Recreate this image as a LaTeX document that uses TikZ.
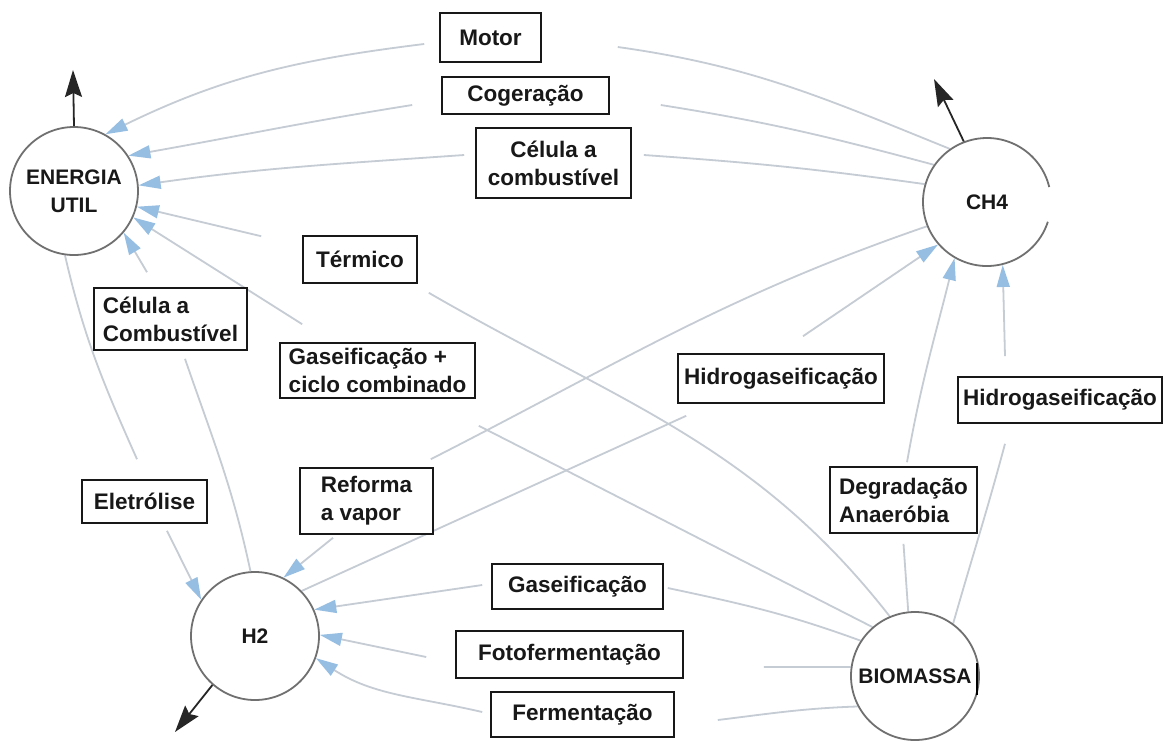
\documentclass[tikz,border=0pt]{standalone}
\usepackage{fontspec}
\setmainfont{Liberation Sans}
\usetikzlibrary{arrows.meta,calc}
\pgfdeclarelayer{background}
\pgfsetlayers{background,main}

\definecolor{linkgray}{RGB}{198,204,212}
\definecolor{tipblue}{RGB}{150,190,226}
\definecolor{ringgray}{RGB}{112,112,112}
\definecolor{inkdark}{RGB}{24,24,24}

\begin{document}
\begin{tikzpicture}[x=1pt,y=1pt,
  every node/.style={font=\fontsize{22.5}{28}\selectfont\bfseries, text=inkdark},
  hubnode/.style={circle, draw=ringgray, line width=1.8pt, minimum size=128pt,
    inner sep=0pt, fill=white, align=center, font=\fontsize{21}{28}\selectfont\bfseries},
  procbox/.style 2 args={draw=inkdark, line width=1.6pt, fill=white,
    minimum width=#1, minimum height=#2, inner sep=0pt, align=left},
  linkline/.style={draw=linkgray, line width=1.8pt},
  feedline/.style={linkline, -{Triangle[length=22pt,width=13pt,color=tipblue]}},
  outarrow/.style={draw=black!85, line width=1.8pt, -{Stealth[length=27pt,width=17pt,inset=4pt]}},
]
\useasboundingbox (0,0) rectangle (1164,-740);

% hubs
\node[hubnode] (EU) at (74,-191) {ENERGIA\\UTIL};
\node[hubnode, draw=none] (CH4) at (987,-202) {CH4};
\draw[ringgray, line width=1.8pt] ($(CH4.center)+(13.5:64)$) arc[start angle=13.5, end angle=342, radius=64];
\node[hubnode] (H2) at (255,-636) {H2};
\node[hubnode] (BIO) at (915,-676) {BIOMASSA};
\draw[black, line width=1.2pt] (977,-663) -- (977,-695);

% process boxes
\node[procbox={101pt}{49pt}] (Motor) at (490.5,-37.5) {Motor};
\node[procbox={167pt}{37pt}] (Cog) at (525.5,-95.5) {Cogeração};
\node[procbox={155pt}{70pt}, align=center] (Celtop) at (553.5,-163) {Célula a\\combustível};
\node[procbox={114pt}{47pt}] (Term) at (360,-259.5) {Térmico};
\node[procbox={153pt}{62pt}] (Celleft) at (170.5,-319) {Célula a\\Combustível};
\node[procbox={195pt}{55pt}] (Gascc) at (377.5,-370.5) {Gaseificação +\\ciclo combinado};
\node[procbox={206pt}{49pt}] (Hidmid) at (781,-378.5) {Hidrogaseificação};
\node[procbox={204pt}{46pt}] (Hidright) at (1060,-400) {Hidrogaseificação};
\node[procbox={147pt}{66pt}] (Degr) at (903.5,-500) {Degradação\\Anaeróbia};
\node[procbox={125pt}{43pt}] (Eletr) at (144.5,-501.5) {Eletrólise};
\node[procbox={133pt}{66pt}] (Reforma) at (366.5,-501) {Reforma\\a vapor};
\node[procbox={171pt}{45pt}] (Gasb) at (577.5,-586.5) {Gaseificação};
\node[procbox={227pt}{47pt}] (Foto) at (569.5,-654.5) {Fotofermentação};
\node[procbox={183pt}{45pt}] (Ferm) at (582.5,-714.5) {Fermentação};

% free ends of the output arrows
\coordinate (EUout) at (73,-70);
\coordinate (CH4out) at (934,-79);
\coordinate (H2out) at (175,-732);

\begin{pgfonlayer}{background}
\fill[white] (0,0) rectangle (1164,-740);

% CH4 -> useful energy
\draw[linkline] (CH4.125) to[out=158,in=-8] ($(Motor.east)+(76,-9.5)$);
\draw[feedline] ($(Motor.west)+(-15,-6.5)$) to[out=187,in=26] (EU.61);
\draw[linkline] (CH4.145) to[out=165,in=-9] ($(Cog.east)+(51,-9.5)$);
\draw[feedline] ($(Cog.west)+(-29,-9.5)$) to[out=189,in=10] (EU.33);
\draw[linkline] (CH4.164) to[out=172,in=-4] ($(Celtop.east)+(12,8)$);
\draw[feedline] ($(Celtop.west)+(-11,8)$) to[out=184,in=8] (EU.5);

% biomass -> useful energy
\draw[linkline] (BIO.113) to[out=128,in=-30] ($(Term.south east)+(11,-9)$);
\draw[feedline] ($(Term.north west)+(-41,-1)$) -- (EU.-14);
\draw[linkline] (BIO.131) to[out=153,in=-27] ($(Gascc.south east)+(3,-27)$);
\draw[feedline] ($(Gascc.north west)+(23,18)$) -- (EU.-24);

% H2 <-> useful energy
\draw[linkline] (H2.94) to[out=102,in=-71] ($(Celleft.south)+(14.5,-8)$);
\draw[feedline] ($(Celleft.north)+(-23.5,15)$) -- (EU.-40);
\draw[linkline] (EU.-98) to[out=-77,in=114] ($(Eletr.north)+(-7.5,20)$);
\draw[feedline] ($(Eletr.south)+(22.5,-7)$) -- (H2.146);

% CH4 <-> H2
\draw[linkline] (CH4.202) to[out=199,in=27] ($(Reforma.north east)+(-3,8)$);
\draw[feedline] ($(Reforma.south)+(-33.5,-3)$) -- (H2.64);
\draw[linkline] (H2.44) -- ($(Hidmid.south west)+(9,-12)$);
\draw[feedline] ($(Hidmid.north)+(22,17)$) -- (CH4.221);

% biomass -> CH4
\draw[linkline] (BIO.96) -- ($(Degr.south)+(0,-10)$);
\draw[feedline] ($(Degr.north)+(3.5,4)$) to[out=80,in=256] (CH4.240);
\draw[linkline] (BIO.54.5) to[out=74,in=-105] ($(Hidright.south)+(-55,-20)$);
\draw[feedline] ($(Hidright.north)+(-55,20)$) -- (CH4.-76);

% biomass -> H2
\draw[linkline] (BIO.147) to[out=160,in=-12] ($(Gasb.east)+(4,-1.5)$);
\draw[feedline] ($(Gasb.west)+(-9,1.5)$) -- (H2.24);
\draw[linkline] (BIO.172.6) -- ($(Foto.east)+(80,-12.5)$);
\draw[feedline] ($(Foto.west)+(-29,-2.5)$) -- (H2.1);
\draw[linkline] (BIO.208) to[out=182,in=7] ($(Ferm.east)+(43,-5.5)$);
\draw[feedline] ($(Ferm.west)+(-8,2.5)$) to[out=167,in=-33] (H2.-20);
\end{pgfonlayer}

% outputs
\draw[outarrow] (EU.north) -- (EUout);
\draw[outarrow] (CH4.111) -- (CH4out);
\draw[outarrow] (H2.229) -- (H2out);
\end{tikzpicture}
\end{document}
